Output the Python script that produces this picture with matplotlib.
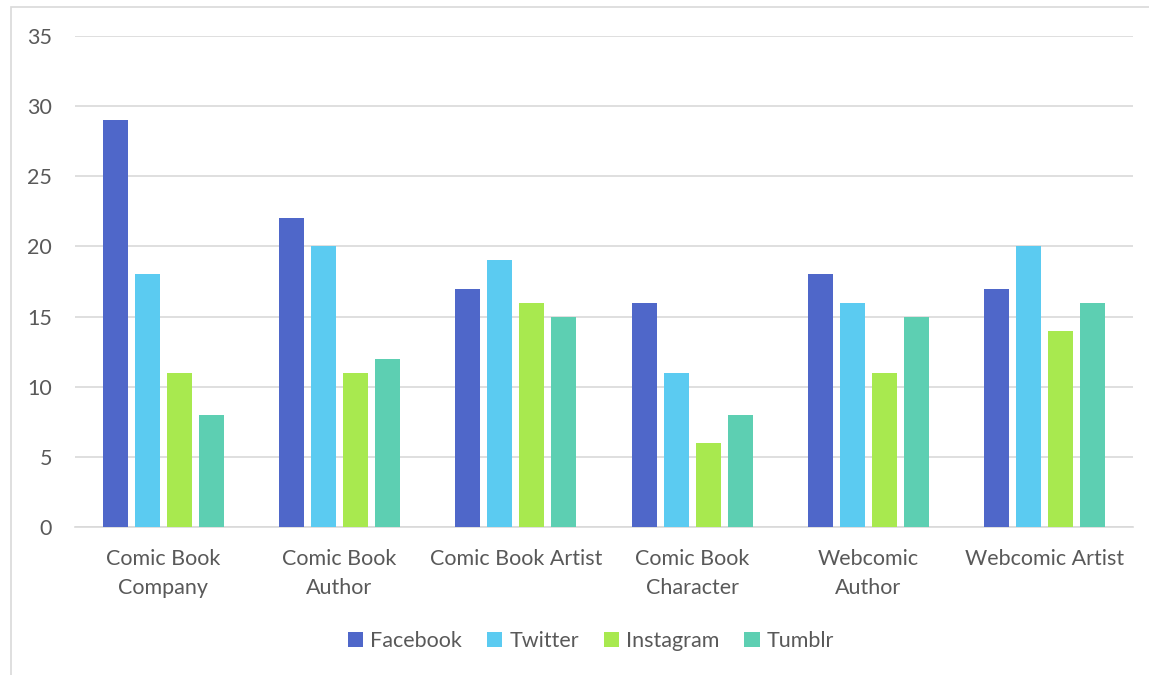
import matplotlib
matplotlib.use("Agg")
import matplotlib.pyplot as plt
import numpy as np

categories = ["Comic Book\nCompany", "Comic Book\nAuthor", "Comic Book Artist",
              "Comic Book\nCharacter", "Webcomic\nAuthor", "Webcomic Artist"]
series_names = ["Facebook", "Twitter", "Instagram", "Tumblr"]
facebook = [29, 22, 17, 16, 18, 17]
twitter = [18, 20, 19, 11, 16, 20]
instagram = [11, 11, 16, 6, 11, 14]
tumblr = [8, 12, 15, 8, 15, 16]
colors = ["#4F67C9", "#5BCBF1", "#A8E94F", "#5DCFB2"]
yticks = [0, 5, 10, 15, 20, 25, 30, 35]

plt.rcParams['font.family'] = ['Lato', 'DejaVu Sans']
txt = "#595959"
fs = 15.5

fig = plt.figure(figsize=(11.49, 6.75), dpi=100)
# outer chart border
fig.add_artist(plt.Rectangle((11/1149, -0.1), 1.2, 1 - 7/675 + 0.1, transform=fig.transFigure,
                             fill=False, edgecolor="#D9D9D9", linewidth=1.2))
ax = fig.add_axes([75/1149, 1 - 527/675, (1133 - 75)/1149, (527 - 36)/675])

x = np.arange(len(categories))
step = 0.1815
width = 0.142
data = [facebook, twitter, instagram, tumblr]
for i, (name, vals) in enumerate(zip(series_names, data)):
    ax.bar(x + (i - 1.5) * step, vals, width=width, color=colors[i], label=name, zorder=3)

ax.set_xlim(-0.5, len(categories) - 0.5)
ax.set_ylim(0, 35)
ax.set_yticks(yticks)
ax.set_yticklabels([str(v) for v in yticks])
ax.set_xticks(x)
ax.set_xticklabels(categories, linespacing=1.6)
ax.grid(axis='y', color="#D9D9D9", linewidth=1.2, zorder=0)
for s in ["top", "right", "left"]:
    ax.spines[s].set_visible(False)
ax.spines["bottom"].set_color("#D9D9D9")
ax.spines["bottom"].set_linewidth(1.2)
ax.tick_params(axis='both', length=0, labelsize=fs, colors=txt)
ax.tick_params(axis='y', pad=16.5)
ax.tick_params(axis='x', pad=15.5)

leg = fig.legend(loc="center", bbox_to_anchor=(591/1149, 1 - 641/675), ncol=4, frameon=False,
                 fontsize=fs, handlelength=0.7, handleheight=0.7, handletextpad=0.35,
                 columnspacing=1.15, labelcolor=txt)

fig.savefig("out.png", dpi=100)
